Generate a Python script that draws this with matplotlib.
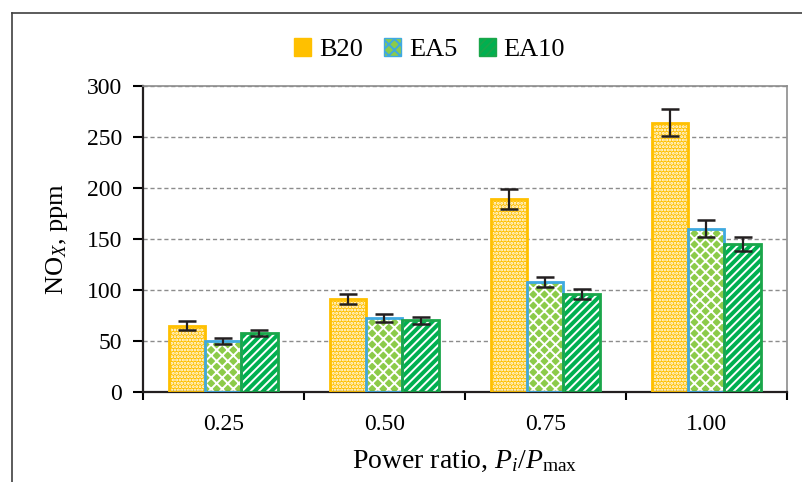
import numpy as np
import matplotlib
matplotlib.use("Agg")
import matplotlib.pyplot as plt
from matplotlib.lines import Line2D
from matplotlib.patches import Patch

plt.rcParams['font.family'] = ['Liberation Serif', 'DejaVu Serif']
plt.rcParams['mathtext.fontset'] = 'custom'
plt.rcParams['mathtext.rm'] = 'Liberation Serif'
plt.rcParams['mathtext.it'] = 'Liberation Serif:italic'
plt.rcParams['hatch.linewidth'] = 1.4

# ---- data
power_ratio = ['0.25', '0.50', '0.75', '1.00']
series_names = ['B20', 'EA5', 'EA10']
b20 = [65, 91, 189, 264]
ea5 = [50, 72, 108, 160]
ea10 = [58, 70, 96, 145]
b20_err = [4, 5, 10, 13]
ea5_err = [3, 4, 5, 8]
ea10_err = [3, 3, 5, 7]

values = [b20, ea5, ea10]
errors = [b20_err, ea5_err, ea10_err]
fills = ['#FFC000', '#8CCB4A', '#00B050']
edges = ['#FFC000', '#3FA9E0', '#1AA64A']
hatches = ['.....', 'xxx', '////']

fig = plt.figure(figsize=(8.03, 4.82), dpi=100)
ax = fig.add_axes([0.178, 0.187, 0.802, 0.635])

x = np.arange(len(power_ratio))
w = 0.224
for i in range(3):
    pos = x + (i - 1) * w
    # coloured fill with white pattern
    ax.bar(pos, values[i], w, color=fills[i], edgecolor='white', hatch=hatches[i],
           linewidth=0, zorder=2)
    # outline
    ax.bar(pos, values[i], w, fill=False, edgecolor=edges[i], linewidth=2, zorder=3)
    ax.errorbar(pos, values[i], yerr=errors[i], fmt='none', ecolor='#231F20',
                elinewidth=1.6, capsize=6.5, capthick=1.8, zorder=4)

ax.set_xlim(-0.5, 3.5)
ax.set_ylim(0, 300)
ax.set_yticks(np.arange(0, 301, 50))
ax.set_xticks(x)
ax.set_xticklabels(power_ratio)
ax.set_xticks(np.arange(-0.5, 3.6, 1), minor=True)
ax.tick_params(axis='x', which='major', length=0, labelsize=17, pad=16)
ax.tick_params(axis='x', which='minor', length=6, width=1.5, direction='out')
ax.tick_params(axis='y', length=7, width=1.5, direction='out', labelsize=17, pad=8)

ax.yaxis.grid(True, linestyle=(0, (3, 2)), color='#8C8C8C', linewidth=1, zorder=0)
ax.set_axisbelow(True)

for s in ['left', 'bottom']:
    ax.spines[s].set_color('#231F20')
    ax.spines[s].set_linewidth(1.6)
for s in ['top', 'right']:
    ax.spines[s].set_color('#8C8C8C')
    ax.spines[s].set_linewidth(1.2)

ax.set_ylabel(r'NO$_X$, ppm', fontsize=19, labelpad=12)
ax.set_xlabel(r'Power ratio, $P_i/P_{\mathrm{max}}$', fontsize=20, labelpad=10)

handles = [Patch(facecolor=fills[i], edgecolor=edges[i], hatch=hatches[i]) for i in range(3)]
fig.legend(handles, series_names, loc='center', bbox_to_anchor=(0.535, 0.897),
           ncol=3, frameon=False, fontsize=19, handlelength=0.65, handleheight=0.65,
           handletextpad=0.3, columnspacing=0.8)

# outer frame (cropped figure box)
fig.add_artist(Line2D([12 / 803, 1], [1 - 12.5 / 482, 1 - 12.5 / 482],
                      transform=fig.transFigure, color='#404040', linewidth=1.2))
fig.add_artist(Line2D([12 / 803, 12 / 803], [0, 1 - 12.5 / 482],
                      transform=fig.transFigure, color='#404040', linewidth=1.2))

fig.savefig('out.png', dpi=100)
